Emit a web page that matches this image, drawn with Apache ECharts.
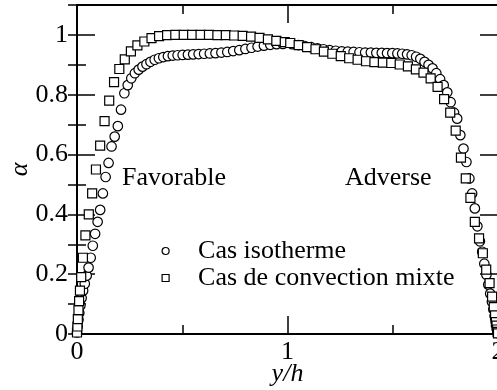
<!DOCTYPE html>
<html>
<head>
<meta charset="utf-8">
<script src="https://cdn.jsdelivr.net/npm/echarts@6/dist/echarts.min.js"></script>
<style>html,body{margin:0;padding:0;background:#fff;}#c{width:497px;height:390px;}</style>
</head>
<body>
<div id="c"></div>
<script>
// y/h positions and alpha values, Cas isotherme (circles)
const isoX = [0.000,0.003,0.007,0.011,0.016,0.022,0.029,0.037,0.046,0.055,0.065,0.075,0.086,0.098,0.110,0.123,0.136,0.150,0.164,0.179,0.194,0.209,0.225,0.241,0.258,0.275,0.293,0.311,0.330,0.349,0.369,0.389,0.410,0.432,0.455,0.478,0.502,0.527,0.552,0.578,0.604,0.631,0.658,0.686,0.714,0.742,0.771,0.800,0.829,0.858,0.888,0.918,0.948,0.978,
  1.022,1.052,1.082,1.112,1.142,1.171,1.200,1.229,1.258,1.286,1.314,1.342,1.369,1.396,1.422,1.448,1.473,1.498,1.522,1.545,1.568,1.590,1.611,1.631,1.651,1.670,1.689,1.707,1.725,1.742,1.759,1.775,1.791,1.806,1.821,1.836,1.850,1.864,1.877,1.890,1.902,1.914,1.925,1.935,1.945,1.954,1.963,1.971,1.978,1.984,1.989,1.993,1.997,2.000];
const isoY = [0.005,0.025,0.048,0.070,0.095,0.120,0.145,0.168,0.195,0.222,0.255,0.295,0.335,0.375,0.415,0.470,0.525,0.572,0.627,0.660,0.695,0.750,0.805,0.832,0.855,0.872,0.884,0.894,0.902,0.910,0.917,0.922,0.926,0.929,0.931,0.932,0.933,0.934,0.935,0.936,0.937,0.938,0.939,0.941,0.943,0.946,0.949,0.953,0.957,0.961,0.964,0.967,0.969,0.970,
  0.969,0.966,0.963,0.959,0.955,0.952,0.949,0.947,0.945,0.944,0.943,0.942,0.941,0.941,0.940,0.940,0.939,0.939,0.938,0.937,0.935,0.932,0.927,0.920,0.910,0.900,0.888,0.872,0.852,0.832,0.808,0.775,0.740,0.720,0.665,0.620,0.575,0.520,0.470,0.420,0.360,0.310,0.275,0.235,0.198,0.165,0.135,0.108,0.083,0.060,0.042,0.027,0.012,0.003];
// Cas de convection mixte (squares)
const mixX = [0.000,0.002,0.004,0.007,0.010,0.014,0.020,0.028,0.040,0.056,0.072,0.090,0.110,0.131,0.153,0.176,0.201,0.227,0.256,0.287,0.320,0.354,0.390,0.428,0.467,0.507,0.547,0.587,0.627,0.667,0.707,0.747,0.787,0.827,0.867,0.907,0.947,0.987,
  1.013,1.053,1.093,1.133,1.173,1.213,1.253,1.293,1.333,1.373,1.413,1.453,1.493,1.533,1.572,1.610,1.646,1.680,1.713,1.744,1.773,1.799,1.824,1.847,1.869,1.890,1.910,1.928,1.944,1.960,1.972,1.980,1.986,1.990,1.993,1.996,1.998,2.000];
const mixY = [0.005,0.025,0.050,0.080,0.110,0.145,0.190,0.255,0.330,0.400,0.470,0.550,0.630,0.712,0.780,0.842,0.886,0.918,0.945,0.965,0.978,0.989,0.996,0.999,1.000,1.000,1.000,1.000,1.000,0.999,0.999,0.998,0.997,0.994,0.990,0.985,0.980,0.976,
  0.973,0.966,0.959,0.952,0.944,0.937,0.929,0.922,0.917,0.912,0.909,0.907,0.906,0.901,0.895,0.885,0.874,0.855,0.826,0.785,0.740,0.680,0.590,0.520,0.455,0.375,0.320,0.270,0.215,0.170,0.125,0.090,0.062,0.040,0.028,0.015,0.007,0.002];
const seriesNames = ['Cas isotherme', 'Cas de convection mixte'];
const notes = ['Favorable', 'Adverse'];

const FONT = 'Liberation Serif';
const pair = (xs, ys) => xs.map((x, i) => [x, ys[i]]);
const lineStyle = {color: '#000', width: 2};
const mk = (o) => Object.assign({
  type: 'value', splitLine: {show: false},
  axisLine: {show: true, onZero: false, lineStyle: lineStyle},
  axisLabel: {show: false}
}, o);

const chart = echarts.init(document.getElementById('c'), null, {renderer: 'canvas'});
chart.setOption({
  animation: false,
  backgroundColor: '#fff',
  grid: {left: 77, right: -1, top: 5, bottom: 56, containLabel: false, outerBoundsMode: 'none'},
  xAxis: [
    mk({position: 'bottom', min: 0, max: 2, interval: 1,
      axisTick: {inside: true, length: 18, lineStyle: {color: '#000', width: 1.5}},
      minorTick: {show: true, splitNumber: 2, length: 9, lineStyle: {color: '#000', width: 1.5}},
      axisLabel: {show: true, margin: 5, color: '#000', fontSize: 26, fontFamily: FONT},
      name: 'y/h', nameLocation: 'middle', nameGap: 27, nameMoveOverlap: false,
      nameTextStyle: {color: '#000', fontSize: 26, fontFamily: FONT, fontStyle: 'italic'}}),
    mk({position: 'top', min: 0, max: 2, interval: 1,
      axisTick: {inside: true, length: 18, lineStyle: {color: '#000', width: 1.5}},
      minorTick: {show: true, splitNumber: 2, length: 9, lineStyle: {color: '#000', width: 1.5}}})
  ],
  yAxis: [
    mk({position: 'left', min: 0, max: 1.1, interval: 0.2,
      axisTick: {inside: true, length: 18, lineStyle: {color: '#000', width: 1.5}},
      axisLabel: {show: true, margin: 9, color: '#000', fontSize: 26, fontFamily: FONT,
        formatter: v => (v > 1.05 ? '' : String(+v.toFixed(1)))},
      name: 'α', nameLocation: 'middle', nameGap: 44, nameRotate: 90, nameMoveOverlap: false,
      nameTextStyle: {color: '#000', fontSize: 26, fontFamily: FONT, fontStyle: 'italic'}}),
    mk({position: 'left', min: 0, max: 1.1, interval: 0.1, axisLine: {show: false},
      axisTick: {inside: true, length: 9, lineStyle: {color: '#000', width: 1.5}}}),
    mk({position: 'right', min: 0, max: 1.1, interval: 0.2,
      axisTick: {inside: true, length: 18, lineStyle: {color: '#000', width: 1.5}}}),
    mk({position: 'right', min: 0, max: 1.1, interval: 0.1, axisLine: {show: false},
      axisTick: {inside: true, length: 9, lineStyle: {color: '#000', width: 1.5}}})
  ],
  legend: {
    orient: 'vertical', left: 161.5, top: 238, padding: 0, itemGap: 1,
    itemWidth: 7, itemHeight: 7,
    data: [{name: seriesNames[0], icon: 'circle'}, {name: seriesNames[1], icon: 'rect'}],
    textStyle: {color: '#000', fontSize: 26, fontFamily: FONT, lineHeight: 26, padding: [0, 0, 0, 24]},
    itemStyle: {color: '#fff', borderColor: '#000', borderWidth: 1.2}
  },
  graphic: [
    {type: 'text', left: 122, top: 165, style: {text: notes[0], font: '26px "Liberation Serif"', fill: '#000'}},
    {type: 'text', left: 345, top: 165, style: {text: notes[1], font: '26px "Liberation Serif"', fill: '#000'}}
  ],
  series: [
    {name: seriesNames[0], type: 'scatter', xAxisIndex: 0, yAxisIndex: 0, symbol: 'circle', symbolSize: 9.5,
      itemStyle: {color: '#fff', borderColor: '#000', borderWidth: 1.2, opacity: 1},
      data: pair(isoX, isoY)},
    {name: seriesNames[1], type: 'scatter', xAxisIndex: 0, yAxisIndex: 0, symbol: 'rect', symbolSize: 9,
      itemStyle: {color: '#fff', borderColor: '#000', borderWidth: 1.2, opacity: 1},
      data: pair(mixX, mixY)}
  ]
});
</script>
</body>
</html>
